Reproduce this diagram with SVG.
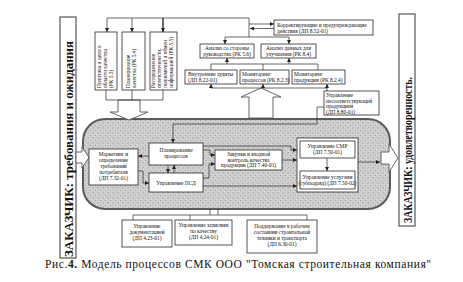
<svg xmlns="http://www.w3.org/2000/svg" width="463" height="282" viewBox="0 0 463 282">
<style>
.box{fill:#fff;stroke:#2a2a2a;stroke-width:0.8}
.bar{fill:#fff;stroke:#555;stroke-width:1.2}
.t{font-family:"Liberation Serif","Times New Roman",serif;font-size:5.4px;fill:#111}
.m{text-anchor:middle}
.big{font-family:"Liberation Serif","Times New Roman",serif;font-weight:bold;font-size:13px;fill:#111}
.c{fill:none;stroke:#2a2a2a;stroke-width:0.7}
.a{marker-end:url(#ah)}
.fat{fill:#fff;stroke:#555;stroke-width:0.9}
</style>
<defs>
<marker id="ah" viewBox="0 0 6 6" refX="6" refY="3" markerWidth="4" markerHeight="4" orient="auto" markerUnits="userSpaceOnUse"><path d="M0,0 L6,3 L0,6 z" fill="#222"/></marker>
<pattern id="grain" width="5" height="5" patternUnits="userSpaceOnUse"><rect width="5" height="5" fill="#cdcdcd"/><rect x="0" y="0" width="1" height="1" fill="#9e9e9e"/><rect x="3" y="2" width="1" height="1" fill="#aaaaaa"/><rect x="1" y="4" width="1" height="1" fill="#e4e4e4"/><rect x="4" y="1" width="1" height="1" fill="#e0e0e0"/><rect x="2" y="3" width="1" height="1" fill="#b4b4b4"/></pattern>
</defs>
<rect width="463" height="282" fill="#fff"/>

<!-- side bars -->
<g id="customer-req">
<rect class="bar" x="60" y="17" width="16" height="241"/>
<text class="big" transform="translate(72.5,257) rotate(-90)" textLength="216" lengthAdjust="spacingAndGlyphs">ЗАКАЗЧИК: требования и ожидания</text>
</g>
<g id="customer-sat">
<rect class="bar" x="399" y="14" width="16" height="212"/>
<text class="big" transform="translate(411.5,223) rotate(-90)" textLength="146" lengthAdjust="spacingAndGlyphs" style="font-size:12px">ЗАКАЗЧИК: удовлетворенность.</text>
</g>

<!-- process area -->
<g id="process-area">
<rect x="83" y="119" width="307" height="90" rx="22" fill="url(#grain)" stroke="#5a5a5a" stroke-width="2"/>
<polygon class="fat" points="76,152 82,152 82,147 89,157.5 82,168 82,163 76,163"/>
<polygon class="fat" points="381,152 389,152 389,144 398,158 389,172 389,164 381,164"/>
</g>

<!-- top-left management boxes -->
<g id="n-policy">
<rect class="box" x="95" y="32" width="22" height="58"/>
<text class="t" transform="translate(101,88) rotate(-90)"><tspan x="0" y="0">Политика и цели в</tspan><tspan x="0" y="6">области качества</tspan><tspan x="0" y="12">(РК 5.3)</tspan></text>
</g>
<g id="n-planning-q">
<rect class="box" x="122" y="32" width="23" height="58"/>
<text class="t" transform="translate(130,88) rotate(-90)"><tspan x="0" y="0">Планирование</tspan><tspan x="0" y="6">качества (РК 5.4)</tspan></text>
</g>
<g id="n-responsibility">
<rect class="box" x="150" y="32" width="27" height="58"/>
<text class="t" transform="translate(155,88) rotate(-90)"><tspan x="0" y="0">Распределение</tspan><tspan x="0" y="6">ответственности,</tspan><tspan x="0" y="12">полномочий и обмен</tspan><tspan x="0" y="18">информацией (РК 5.5)</tspan></text>
</g>

<!-- top-right boxes -->
<g id="n-corrective">
<rect class="box" x="274" y="20" width="99" height="15"/>
<text class="t"><tspan x="277" y="26.5">Корректирующие и предупреждающие</tspan><tspan x="277" y="32.5">действия (ДП 8.52-01)</tspan></text>
</g>
<g id="n-mgmt-review">
<rect class="box" x="200" y="44" width="54" height="14"/>
<text class="t m"><tspan x="227" y="50">Анализ со стороны</tspan><tspan x="227" y="56">руководства (РК 5.6)</tspan></text>
</g>
<g id="n-data-analysis">
<rect class="box" x="261" y="44" width="55" height="14"/>
<text class="t m"><tspan x="288.5" y="50">Анализ данных для</tspan><tspan x="288.5" y="56">улучшения (РК 8.4)</tspan></text>
</g>
<g id="n-audits">
<rect class="box" x="185" y="70" width="52" height="14"/>
<text class="t"><tspan x="188" y="76">Внутренние аудиты</tspan><tspan x="188" y="82">(ДП 8.22-01)</tspan></text>
</g>
<g id="n-mon-process">
<rect class="box" x="240" y="70" width="49" height="14"/>
<text class="t"><tspan x="242" y="76">Мониторинг</tspan><tspan x="242" y="82">процессов (РК 8.2.3)</tspan></text>
</g>
<g id="n-mon-product">
<rect class="box" x="292" y="70" width="53" height="14"/>
<text class="t"><tspan x="294" y="76">Мониторинг</tspan><tspan x="294" y="82">продукции (РК 8.2.4)</tspan></text>
</g>
<g id="n-nonconform">
<rect class="box" x="324" y="91" width="55" height="24"/>
<text class="t"><tspan x="326" y="97">Управление</tspan><tspan x="326" y="102.5">несоответствующей</tspan><tspan x="326" y="108">продукцией</tspan><tspan x="326" y="113.5">(ДП 8.80-01)</tspan></text>
</g>

<!-- fat arrows -->
<g id="fat-arrows">
<polygon class="fat" points="118,100 140,100 140,112 148,112 129,120 110,112 118,112"/>
<polygon class="fat" points="249,118 249,97 241,97 261,88 281,97 273,97 273,118"/>
</g>

<!-- inner process boxes -->
<g id="n-marketing">
<rect class="box" x="89" y="149" width="49" height="36"/>
<text class="t m"><tspan x="113.5" y="156">Маркетинг и</tspan><tspan x="113.5" y="162">определение</tspan><tspan x="113.5" y="168">требований</tspan><tspan x="113.5" y="174">потребителя</tspan><tspan x="113.5" y="180">(ДП 7.32-01)</tspan></text>
</g>
<g id="n-proc-planning">
<rect class="box" x="149" y="143" width="54" height="22"/>
<text class="t m"><tspan x="176" y="152">Планирование</tspan><tspan x="176" y="158">процессов</tspan></text>
</g>
<g id="n-psd">
<rect class="box" x="149" y="173" width="54" height="19"/>
<text class="t m"><tspan x="176" y="184.5">Управление ПСД</tspan></text>
</g>
<g id="n-purchasing">
<rect class="box" x="215" y="150" width="67" height="20"/>
<text class="t m"><tspan x="248.5" y="156">Закупки и входной</tspan><tspan x="248.5" y="161.5">контроль качества</tspan><tspan x="248.5" y="167">продукции (ДП 7.40-01)</tspan></text>
</g>
<g id="n-production">
<rect class="box" x="297" y="138" width="61" height="54"/>
<rect class="box" x="300" y="141" width="55" height="17"/>
<text class="t m"><tspan x="327.5" y="148">Управление СМР</tspan><tspan x="327.5" y="154">(ДП 7.50-01)</tspan></text>
<rect class="box" x="300" y="171" width="55" height="18"/>
<text class="t m"><tspan x="327.5" y="178.5">Управление услугами</tspan><tspan x="327.5" y="184.5">(субподряд) (ДП 7.50-02)</tspan></text>
</g>

<!-- bottom support boxes -->
<g id="n-docs">
<rect class="box" x="122" y="220" width="50" height="27"/>
<text class="t m"><tspan x="147" y="228">Управление</tspan><tspan x="147" y="234">документацией</tspan><tspan x="147" y="240">(ДП 4.23-01)</tspan></text>
</g>
<g id="n-records">
<rect class="box" x="175" y="220" width="57" height="25"/>
<text class="t m"><tspan x="203.5" y="227">Управление записями</tspan><tspan x="203.5" y="233">по качеству</tspan><tspan x="203.5" y="239">(ДП 4.24-01)</tspan></text>
</g>
<g id="n-equipment">
<rect class="box" x="247" y="220" width="70" height="33"/>
<text class="t m"><tspan x="282" y="228">Поддержание в рабочем</tspan><tspan x="282" y="234">состоянии строительной</tspan><tspan x="282" y="240">техники и транспорта</tspan><tspan x="282" y="246">(ДП 6.30-01)</tspan></text>
</g>

<!-- connectors -->
<g id="connectors">
<path class="c" d="M107,18 H249 V37"/>
<path class="c a" d="M107,18 V32"/>
<path class="c a" d="M132,18 V32"/>
<path class="c a" d="M163,18 V32" style="stroke-width:1.4"/>
<path class="c a" d="M249,24 H274"/>
<path class="c a" d="M274,28.5 H250"/>
<path class="c a" d="M249,37 H225 V44"/>
<path class="c a" d="M249,37 H289 V44"/>
<path class="c" d="M211,64 H318 M211,64 V70 M263,64 V70 M318,64 V70"/>
<path class="c a" d="M227,64 V58"/>
<path class="c a" d="M289,64 V58"/>
<path class="c" d="M211,88 H327 V91"/>
<path class="c a" d="M211,88 V84"/>
<path class="c a" d="M263,88 V84"/>
<path class="c a" d="M327,88 V84"/>
<path class="c" d="M106,90 V100 H163 V90 M132,90 V100"/>
<path class="c a" d="M324,107 H317 V124 H173 V143"/>
<path class="c a" d="M149,156 H138"/>
<path class="c a" d="M138,171 H143 V183 H149"/>
<path class="c a" d="M168,165 V173"/>
<path class="c a" d="M174,173 V165"/>
<path class="c a" d="M203,150 H210 V155 H215"/>
<path class="c a" d="M203,178 H209 V164 H215"/>
<path class="c a" d="M203,146 H291 V150 H297"/>
<path class="c a" d="M282,160 H297"/>
<path class="c a" d="M203,186 H297"/>
<path class="c a" d="M327,158 V171"/>
<path class="c a" d="M358,162 H380"/>
<path class="c" d="M210,209 V215 M218,209 V215 M133,215 H307 M133,215 V220 M190,215 V220 M307,215 V220"/>
</g>

<text x="45" y="268" textLength="386" lengthAdjust="spacing" style="font-family:'Liberation Serif','Times New Roman',serif;font-size:11.5px;fill:#111">Рис.<tspan font-weight="bold">4.</tspan> Модель  процессов  СМК ООО "Томская строительная компания"</text>
</svg>
